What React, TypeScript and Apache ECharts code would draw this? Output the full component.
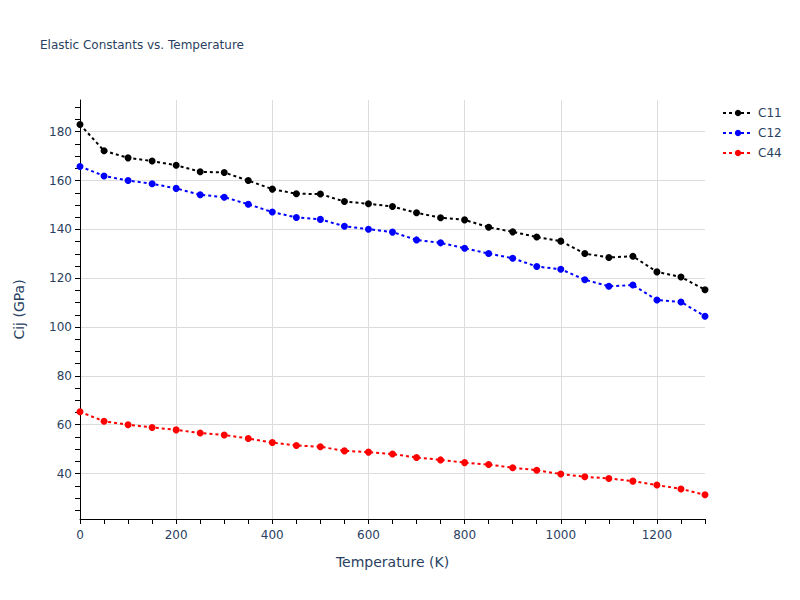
import React, { useEffect, useRef } from "react";
import * as echarts from "echarts";

const temperatures = [0, 50, 100, 150, 200, 250, 300, 350, 400, 450, 500, 550, 600, 650, 700, 750, 800, 850, 900, 950, 1000, 1050, 1100, 1150, 1200, 1250, 1300];
const c11 = [183.0, 172.2, 169.3, 168.0, 166.3, 163.6, 163.3, 160.0, 156.5, 154.6, 154.5, 151.4, 150.5, 149.4, 146.8, 144.8, 143.9, 140.9, 139.0, 136.9, 135.2, 130.1, 128.5, 129.0, 122.6, 120.5, 115.3];
const c12 = [165.8, 161.9, 160.0, 158.7, 156.8, 154.2, 153.2, 150.3, 147.1, 144.9, 144.1, 141.3, 140.1, 138.9, 135.7, 134.5, 132.3, 130.1, 128.2, 124.8, 123.7, 119.4, 116.7, 117.2, 111.1, 110.3, 104.4];
const c44 = [65.3, 61.4, 60.0, 58.9, 57.9, 56.6, 55.8, 54.4, 52.7, 51.5, 51.0, 49.3, 48.8, 48.0, 46.6, 45.6, 44.5, 43.7, 42.4, 41.4, 39.8, 38.7, 38.0, 36.9, 35.3, 33.7, 31.3];
const seriesNames = ["C11", "C12", "C44"];
const seriesColors = ["#000000", "#0000ff", "#ff0000"];

const FONT = "DejaVu Sans, Verdana, sans-serif";
const TXT = "#2a3f5f";

const Y_MIN = 21.4;
const Y_MAX = 193;
const Y_TICK_MIN = 25;
const Y_TICK_MAX = 190;
const GRID_TOP = 100;
const GRID_BOTTOM = 81;
const PLOT_H = 600 - GRID_TOP - GRID_BOTTOM;

export default function App() {
  const ref = useRef<HTMLDivElement>(null);
  useEffect(() => {
    if (!ref.current) return;
    const chart = echarts.init(ref.current, undefined, { renderer: "svg" });
    const values = [c11, c12, c44];
    const series = values.map((vals, i) => ({
      name: seriesNames[i],
      type: "line",
      xAxisIndex: 0,
      yAxisIndex: 0,
      data: temperatures.map((t, j) => [t, vals[j]]),
      symbol: "circle",
      symbolSize: 7,
      showSymbol: true,
      itemStyle: { color: seriesColors[i] },
      lineStyle: { color: seriesColors[i], width: 2, type: [3, 3] },
      z: 3 - i,
    }));
    const plain = (v: number) => String(Math.round(v));
    const k = PLOT_H / (Y_MAX - Y_MIN);
    const tickGridTop = GRID_TOP + (Y_MAX - Y_TICK_MAX) * k;
    const tickGridBottom = GRID_BOTTOM + (Y_TICK_MIN - Y_MIN) * k;
    chart.setOption({
      animation: false,
      textStyle: { fontFamily: FONT },
      title: {
        text: "Elastic Constants vs. Temperature",
        left: 35,
        top: 34,
        textStyle: { fontFamily: FONT, fontSize: 12, fontWeight: "normal", color: TXT },
      },
      legend: {
        orient: "vertical",
        left: 717,
        top: 102,
        itemWidth: 30,
        itemHeight: 8,
        itemGap: 8,
        textStyle: { fontFamily: FONT, fontSize: 12, color: TXT },
        data: seriesNames,
      },
      grid: [
        { left: 80, right: 95, top: GRID_TOP, bottom: GRID_BOTTOM, containLabel: false },
        { left: 80, right: 95, top: tickGridTop, bottom: tickGridBottom, containLabel: false },
      ],
      xAxis: [
        {
          type: "value",
          gridIndex: 0,
          min: 0,
          max: 1300,
          interval: 50,
          axisLine: { show: true, lineStyle: { color: "#000", width: 1 } },
          axisTick: { show: true, inside: false, length: 5, lineStyle: { color: "#000" } },
          axisLabel: { show: false },
          splitLine: { show: false },
        },
        {
          type: "value",
          gridIndex: 0,
          position: "bottom",
          min: 0,
          max: 1300,
          interval: 200,
          axisLine: { show: false },
          axisTick: { show: false },
          axisLabel: { show: true, margin: 10, fontSize: 12, color: TXT, fontFamily: FONT, showMaxLabel: false, formatter: plain },
          splitLine: { show: true, showMinLine: false, showMaxLine: false, lineStyle: { color: "#dcdcdc", width: 1 } },
          name: "Temperature (K)",
          nameLocation: "middle",
          nameGap: 36,
          nameTextStyle: { fontSize: 14, color: TXT, fontFamily: FONT },
        },
        {
          type: "value",
          gridIndex: 1,
          min: 0,
          max: 1300,
          show: false,
        },
      ],
      yAxis: [
        {
          type: "value",
          gridIndex: 0,
          min: Y_MIN,
          max: Y_MAX,
          axisLine: { show: true, lineStyle: { color: "#000", width: 1 } },
          axisTick: { show: false },
          axisLabel: { show: false },
          splitLine: { show: false },
        },
        {
          type: "value",
          gridIndex: 0,
          position: "left",
          min: Y_MIN,
          max: Y_MAX,
          minInterval: 20,
          maxInterval: 20,
          splitNumber: 9,
          axisLine: { show: false },
          axisTick: { show: false },
          axisLabel: { show: true, margin: 8, fontSize: 12, color: TXT, fontFamily: FONT, showMinLabel: false, showMaxLabel: false, formatter: plain },
          splitLine: { show: true, showMinLine: false, showMaxLine: false, lineStyle: { color: "#dcdcdc", width: 1 } },
          name: "Cij (GPa)",
          nameLocation: "middle",
          nameGap: 54,
          nameTextStyle: { fontSize: 14, color: TXT, fontFamily: FONT },
        },
        {
          type: "value",
          gridIndex: 1,
          position: "left",
          min: Y_TICK_MIN,
          max: Y_TICK_MAX,
          interval: 5,
          axisLine: { show: false },
          axisTick: { show: true, inside: false, length: 5, lineStyle: { color: "#000" } },
          axisLabel: { show: false },
          splitLine: { show: false },
        },
      ],
      series,
    });
    return () => chart.dispose();
  }, []);
  return (
    <div
      ref={ref}
      style={{ position: "absolute", left: 0, top: 0, width: 800, height: 600, background: "#fff" }}
    />
  );
}
